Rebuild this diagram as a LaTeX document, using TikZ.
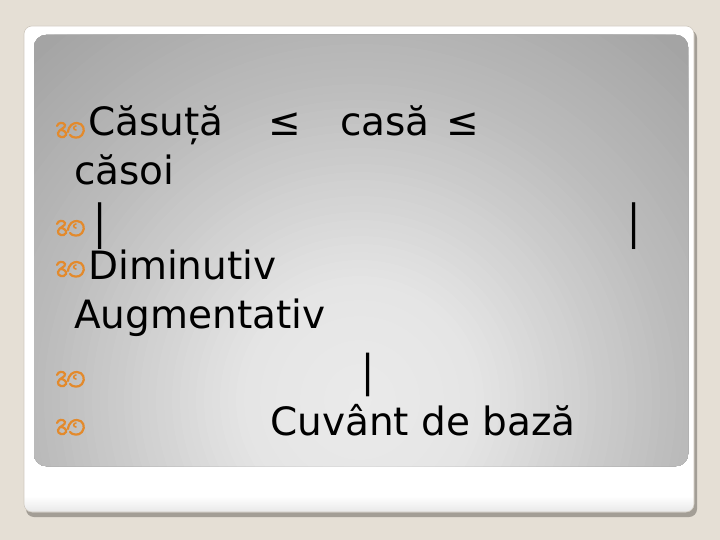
\documentclass[tikz,border=0pt]{standalone}
\usepackage{fontspec}
\setmainfont{DejaVu Sans}
\usepackage{graphicx}
\definecolor{bgbeige}{HTML}{E5DFD5}
\definecolor{cardshadow}{HTML}{A39E96}
\definecolor{cardedge}{HTML}{CFC9BF}
\definecolor{bulletc}{HTML}{E38A2C}
\tikzset{
  txt/.style={anchor=base west, inner sep=0pt, font=\fontsize{39}{47}\selectfont},
  bar/.style={inner sep=0pt, font=\fontsize{39}{47}\selectfont},
  bul/.pic={
    \draw[bulletc, line width=2.2pt, line cap=round]
      (2,4) .. controls (3,0) and (9,0) .. (10,3)
      .. controls (11,6) and (4,7) .. (3,11)
      .. controls (2,15) and (9,17) .. (11,13)
      .. controls (12,10) and (8,8) .. (6,8);
    \draw[bulletc, line width=2.2pt, line cap=round]
      (13,10) .. controls (14,3) and (18,1) .. (22,1)
      .. controls (28,1) and (31,8) .. (27,13)
      .. controls (24,17) and (17,16) .. (15,13);
    \draw[bulletc, line width=1.6pt, line cap=round]
      (21,4) .. controls (18,4) and (18,8) .. (21,8);
  }
}
\begin{document}
\begin{tikzpicture}[x=1pt,y=-1pt]
\useasboundingbox (0,0) rectangle (720,540);
\fill[bgbeige] (0,0) rectangle (720,540);
% card
\fill[cardshadow, rounded corners=8pt] (26,30) rectangle (697,517);
\fill[white, rounded corners=8pt] (24,26) rectangle (694,512);
\begin{scope}
  \clip[rounded corners=8pt] (24,26) rectangle (694,512);
  \shade[top color=white, bottom color=black!9] (24,496) rectangle (694,512);
\end{scope}
\draw[cardedge, line width=0.6pt, rounded corners=8pt] (24,26) rectangle (694,512);
% panel with radial gradient
\begin{scope}
  \clip[rounded corners=12pt] (34,35) rectangle (688,466);
  \foreach \r in {540,532,...,4} {
    \pgfmathsetmacro\g{ifthenelse(\r<=120, 234-5*(\r/120), ifthenelse(\r<=320, 229-41*((\r-120)/200), ifthenelse(\r<=480, 188-24*((\r-320)/160), 164)))}
    \pgfmathsetmacro\gg{\g/255}
    \definecolor{curgray}{gray}{\gg}
    \fill[curgray] (360,400) circle (\r pt);
  }
\end{scope}
% bullets
\pic at (55,122) {bul};
\pic at (55,220) {bul};
\pic at (55,261) {bul};
\pic at (55,371) {bul};
\pic at (55,419) {bul};
% text
\node[txt] (t1) at (88,136) {Căsuță};
\node[txt] (le1) at (268,136) {≤};
\node[txt] (t2) at (340,136) {casă};
\node[txt] (le2) at (446,136) {≤};
\node[txt] (t3) at (74,185) {căsoi};
\node[bar] (b1) at (100,226) {\scalebox{1}[1.2]{|}};
\node[bar] (b2) at (634,226) {\scalebox{1}[1.2]{|}};
\node[txt] (t4) at (88,279) {Diminutiv};
\node[txt] (t5) at (74,328) {Augmentativ};
\node[bar] (b3) at (368.5,374.5) {\scalebox{1}[1.12]{|}};
\node[txt] (t6) at (270,435) {Cuvânt de bază};
\end{tikzpicture}
\end{document}
